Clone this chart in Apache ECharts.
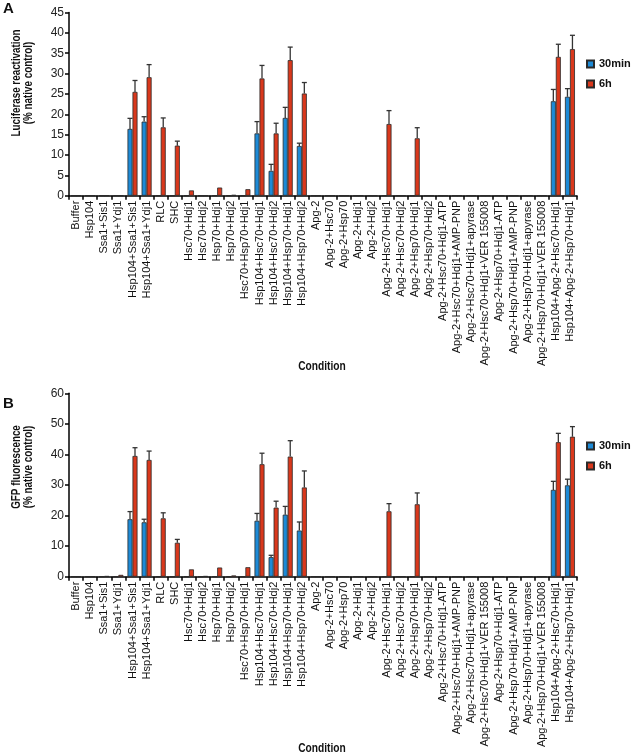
<!DOCTYPE html>
<html>
<head>
<meta charset="utf-8">
<script src="https://cdn.jsdelivr.net/npm/echarts@6/dist/echarts.min.js"></script>
<style>
html,body{margin:0;padding:0;background:#fff;}
#chart{width:631px;height:756px;}
</style>
</head>
<body>
<div id="chart"></div>
<script>
const categories = ['Buffer','Hsp104','Ssa1+Sis1','Ssa1+Ydj1','Hsp104+Ssa1+Sis1','Hsp104+Ssa1+Ydj1','RLC','SHC',
 'Hsc70+Hdj1','Hsc70+Hdj2','Hsp70+Hdj1','Hsp70+Hdj2','Hsc70+Hsp70+Hdj1','Hsp104+Hsc70+Hdj1','Hsp104+Hsc70+Hdj2',
 'Hsp104+Hsp70+Hdj1','Hsp104+Hsp70+Hdj2','Apg-2','Apg-2+Hsc70','Apg-2+Hsp70','Apg-2+Hdj1','Apg-2+Hdj2',
 'Apg-2+Hsc70+Hdj1','Apg-2+Hsc70+Hdj2','Apg-2+Hsp70+Hdj1','Apg-2+Hsp70+Hdj2','Apg-2+Hsc70+Hdj1-ATP',
 'Apg-2+Hsc70+Hdj1+AMP-PNP','Apg-2+Hsc70+Hdj1+apyrase','Apg-2+Hsc70+Hdj1+VER 155008','Apg-2+Hsp70+Hdj1-ATP',
 'Apg-2+Hsp70+Hdj1+AMP-PNP','Apg-2+Hsp70+Hdj1+apyrase','Apg-2+Hsp70+Hdj1+VER 155008','Hsp104+Apg-2+Hsc70+Hdj1',
 'Hsp104+Apg-2+Hsp70+Hdj1'];

// Panel A: luciferase reactivation
const luc30min = [0,0,0,0,16.4,18.2,0,0,0,0,0,0,0,15.3,6.1,19.1,12.2,0,0,0,0,0,0,0,0,0,0,0,0,0,0,0,0,0,23.2,24.3];
const luc6h    = [0,0,0,0,25.5,29.1,16.8,12.3,1.3,0,2.0,0.2,1.6,28.8,15.3,33.3,25.1,0,0,0,0,0,17.6,0,14.1,0,0,0,0,0,0,0,0,0,34.1,36.0];
const luc30minErr = [0,0,0,0,2.6,1.2,0,0,0,0,0,0,0,2.9,1.6,2.6,0.7,0,0,0,0,0,0,0,0,0,0,0,0,0,0,0,0,0,2.9,2.0];
const luc6hErr    = [0,0,0,0,2.8,3.1,2.3,1.1,0,0,0,0,0,3.2,2.5,3.2,2.7,0,0,0,0,0,3.3,0,2.6,0,0,0,0,0,0,0,0,0,3.1,3.4];

// Panel B: GFP fluorescence
const gfp30min = [0,0,0,0,18.8,17.8,0,0,0,0,0,0,0,18.3,6.4,20.3,15.1,0,0,0,0,0,0,0,0,0,0,0,0,0,0,0,0,0,28.4,29.9];
const gfp6h    = [0,0,0.2,0.6,39.5,38.2,19.1,11.1,2.4,0.2,3.0,0.4,3.1,36.8,22.6,39.3,29.2,0,0,0,0,0,21.4,0,23.7,0,0,0,0,0,0,0,0,0,44.0,45.8];
const gfp30minErr = [0,0,0,0,2.5,1.0,0,0,0,0,0,0,0,2.4,0.6,2.7,2.8,0,0,0,0,0,0,0,0,0,0,0,0,0,0,0,0,0,2.8,2.0];
const gfp6hErr    = [0,0,0,0,2.7,2.9,1.8,1.1,0,0,0,0,0,3.6,2.1,5.2,5.4,0,0,0,0,0,2.5,0,3.7,0,0,0,0,0,0,0,0,0,2.9,3.3];

const yTicksA = {max:45, interval:5};
const yTicksB = {max:60, interval:10};

const FONT = 'Liberation Sans, Arial, sans-serif';
const BLUE = '#1d8ad6';
const RED = '#d9381c';
const BAR_W = 5;

function errData(vals, errs){
  const out = [];
  vals.forEach((v,i)=>{ if(errs[i]>0) out.push([i, v, errs[i]]); });
  return out;
}
function errSeries(vals, errs, gi, offset){
  return {
    type:'custom', xAxisIndex:gi, yAxisIndex:gi, z:1, silent:true,
    data: errData(vals, errs),
    renderItem: function(params, api){
      const i = api.value(0), v = api.value(1), e = api.value(2);
      const p0 = api.coord([i, v]);
      const p1 = api.coord([i, v+e]);
      const x = p0[0] + offset;
      return {type:'group', children:[
        {type:'line', shape:{x1:x, y1:p0[1], x2:x, y2:p1[1]}, style:{stroke:'#333', lineWidth:1.3}},
        {type:'line', shape:{x1:x-2.5, y1:p1[1], x2:x+2.5, y2:p1[1]}, style:{stroke:'#333', lineWidth:1.3}}
      ]};
    }
  };
}
function barSeries(name, vals, color, gi){
  return {
    name:name, type:'bar', xAxisIndex:gi, yAxisIndex:gi, data:vals, barWidth:BAR_W, barGap:'0%', z:2,
    itemStyle:{color:color, borderColor:'#2a2a2a', borderWidth:0.8},
    emphasis:{disabled:true}
  };
}
function xAxis(gi){
  return {
    type:'category', gridIndex:gi, data:categories, boundaryGap:true,
    axisLine:{lineStyle:{color:'#000', width:1.5}},
    axisTick:{show:true, interval:0, alignWithLabel:false, length:4, lineStyle:{color:'#000', width:1.5}},
    axisLabel:{interval:0, rotate:90, margin:5, fontSize:11, color:'#111', fontFamily:FONT}
  };
}
function yAxis(gi, t){
  return {
    type:'value', gridIndex:gi, min:0, max:t.max, interval:t.interval,
    axisLine:{show:true, lineStyle:{color:'#000', width:1.5}},
    axisTick:{show:true, length:4, lineStyle:{color:'#000', width:1.5}},
    axisLabel:{fontSize:12, color:'#222', margin:5, fontFamily:FONT},
    splitLine:{show:false}
  };
}
function legend(top){
  return {
    orient:'vertical', left:586, top:top, padding:0, itemWidth:7, itemHeight:7, itemGap:9,
    data:['30min','6h'], icon:'rect', selectedMode:false,
    textStyle:{fontSize:11, fontWeight:'bold', color:'#111', fontFamily:FONT, overflow:'none'}
  };
}
function ytitle(text, x, y){
  return {type:'text', x:x, y:y, rotation:Math.PI/2, scaleX:0.82,
    style:{text:text, font:'bold 12px '+FONT, fill:'#111', align:'center', verticalAlign:'middle', lineHeight:12}};
}
function xtitle(x, y){
  return {type:'text', x:x, y:y, scaleX:0.85,
    style:{text:'Condition', font:'bold 12px '+FONT, fill:'#111', align:'center', verticalAlign:'middle'}};
}

const chart = echarts.init(document.getElementById('chart'), null, {renderer:'canvas'});
chart.setOption({
  animation:false,
  backgroundColor:'#fff',
  grid:[
    {left:69, right:54, top:12.5, height:183.2},
    {left:69, right:54, top:393.3, height:183.4}
  ],
  legend:[legend(58.5), legend(440.5)],
  xAxis:[xAxis(0), xAxis(1)],
  yAxis:[yAxis(0, yTicksA), yAxis(1, yTicksB)],
  graphic:[
    {type:'text', left:3, top:1, style:{text:'A', font:'bold 15px '+FONT, fill:'#111'}},
    {type:'text', left:3, top:396, style:{text:'B', font:'bold 15px '+FONT, fill:'#111'}},
    ytitle('Luciferase reactivation\n(% native control)', 23, 83),
    ytitle('GFP fluorescence\n(% native control)', 23, 467),
    xtitle(322, 367),
    xtitle(322, 749)
  ],
  series:[
    barSeries('30min', luc30min, BLUE, 0),
    barSeries('6h', luc6h, RED, 0),
    errSeries(luc30min, luc30minErr, 0, -BAR_W/2),
    errSeries(luc6h, luc6hErr, 0, BAR_W/2),
    barSeries('30min', gfp30min, BLUE, 1),
    barSeries('6h', gfp6h, RED, 1),
    errSeries(gfp30min, gfp30minErr, 1, -BAR_W/2),
    errSeries(gfp6h, gfp6hErr, 1, BAR_W/2)
  ]
});
</script>
</body>
</html>
